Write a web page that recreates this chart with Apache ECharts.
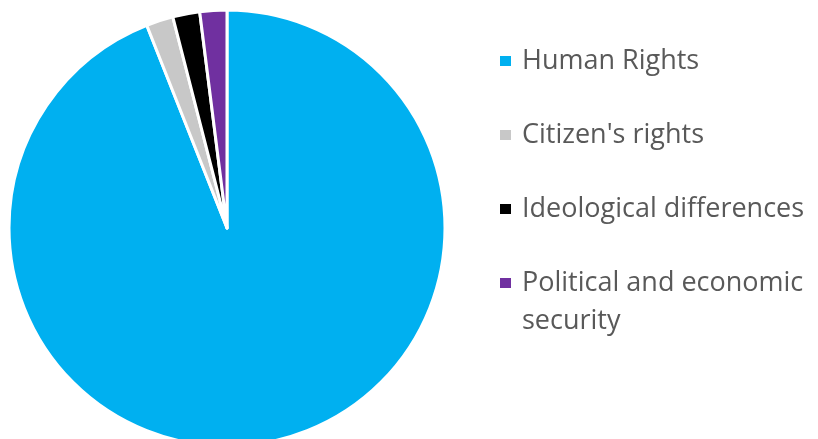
<!DOCTYPE html>
<html lang="en">
<head>
    <meta charset="UTF-8">
    <title>pie</title>
    <style>
        html, body { margin: 0; padding: 0; background: #fff; }
    </style>
</head>
<body>
<div id="main" style="width: 818px; height: 439px;"></div>

<script src="https://cdn.jsdelivr.net/npm/echarts@6/dist/echarts.min.js"></script>
<script>
    var categories = ['Human Rights', "Citizen's rights", 'Ideological differences', 'Political and economic\nsecurity'];
    var values = [94, 2, 2, 2];
    var colors = ['#00B0F0', '#C8C8C8', '#000000', '#7030A0'];

    var myChart = echarts.init(document.getElementById('main'));

    var pieData = [];
    var legendData = [];
    for (var i = 0; i < categories.length; i++) {
        pieData.push({ name: categories[i], value: values[i], itemStyle: { color: colors[i] } });
        var item = { name: categories[i] };
        // two-line entry: rich layout + negative bottom padding keeps icon on first line
        if (categories[i].indexOf('\n') >= 0) {
            item.textStyle = { padding: [0, 0, -38, 5], rich: { a: {} } };
        }
        legendData.push(item);
    }

    var option = {
        animation: false,
        legend: {
            orient: 'vertical',
            left: 493,
            top: 37,
            itemWidth: 13,
            itemHeight: 12,
            itemGap: 36,
            icon: 'rect',
            data: legendData,
            textStyle: {
                fontFamily: 'Open Sans',
                fontSize: 27,
                color: '#595959',
                lineHeight: 38,
                padding: [0, 0, 0, 5]
            }
        },
        series: [
            {
                type: 'pie',
                radius: 218,
                center: [227, 228],
                startAngle: 90,
                clockwise: true,
                label: { show: false },
                labelLine: { show: false },
                itemStyle: {
                    borderColor: '#ffffff',
                    borderWidth: 3
                },
                data: pieData
            }
        ]
    };
    myChart.setOption(option);
</script>
</body>
</html>
